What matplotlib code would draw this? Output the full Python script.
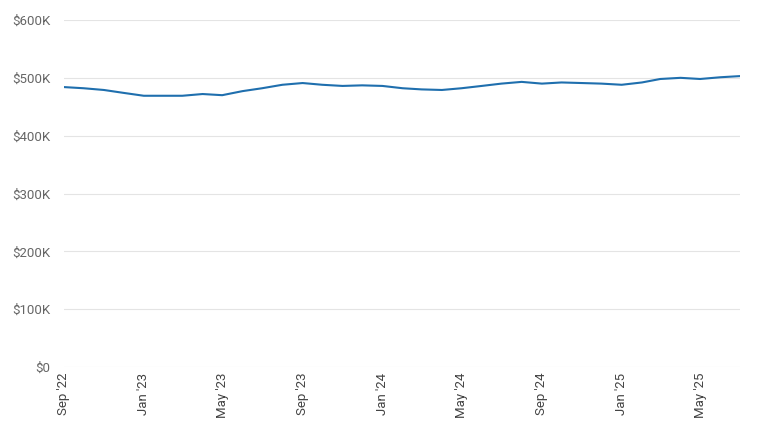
import pandas as pd
import matplotlib
matplotlib.use('Agg')
import matplotlib.pyplot as plt
import matplotlib.dates as mdates
from matplotlib.ticker import FuncFormatter

# monthly values, Sep 2022 .. Jul 2025
months = pd.date_range('2022-09-01', '2025-07-01', freq='MS')
values = [484, 482, 479, 474, 469, 469, 469, 472, 470, 477, 482, 488,
          491, 488, 486, 487, 486, 482, 480, 479, 482, 486, 490, 493,
          490, 492, 491, 490, 488, 492, 498, 500, 498, 501, 503]
values = [v * 1000 for v in values]
y_ticks = [0, 100000, 200000, 300000, 400000, 500000, 600000]

plt.rcParams['font.family'] = ['Roboto', 'DejaVu Sans']

fig = plt.figure(figsize=(7.57, 4.23), dpi=100)
ax = fig.add_axes([64 / 757, 1 - 367 / 423, (740 - 64) / 757, (367 - 20) / 423])

ax.plot(months, values, color='#1f6fae', linewidth=1.5, solid_capstyle='round')

ax.set_ylim(0, 600000)
ax.set_yticks(y_ticks)
ax.yaxis.set_major_formatter(FuncFormatter(lambda v, p: '$0' if v == 0 else f'${int(v/1000)}K'))
ax.set_xlim(months[0], months[-1])
ax.xaxis.set_major_locator(mdates.MonthLocator(bymonth=[1, 5, 9]))
ax.xaxis.set_major_formatter(mdates.DateFormatter("%b '%y"))

ax.grid(axis='y', color='#e4e4e4', linewidth=0.8)
ax.set_axisbelow(True)
for s in ax.spines.values():
    s.set_visible(False)
ax.tick_params(axis='y', length=0, pad=10, labelsize=9.5, labelcolor='#666666')
ax.tick_params(axis='x', length=0, pad=4, labelsize=9.5, labelcolor='#444444', labelrotation=90)

fig.savefig('out.png', dpi=100)
